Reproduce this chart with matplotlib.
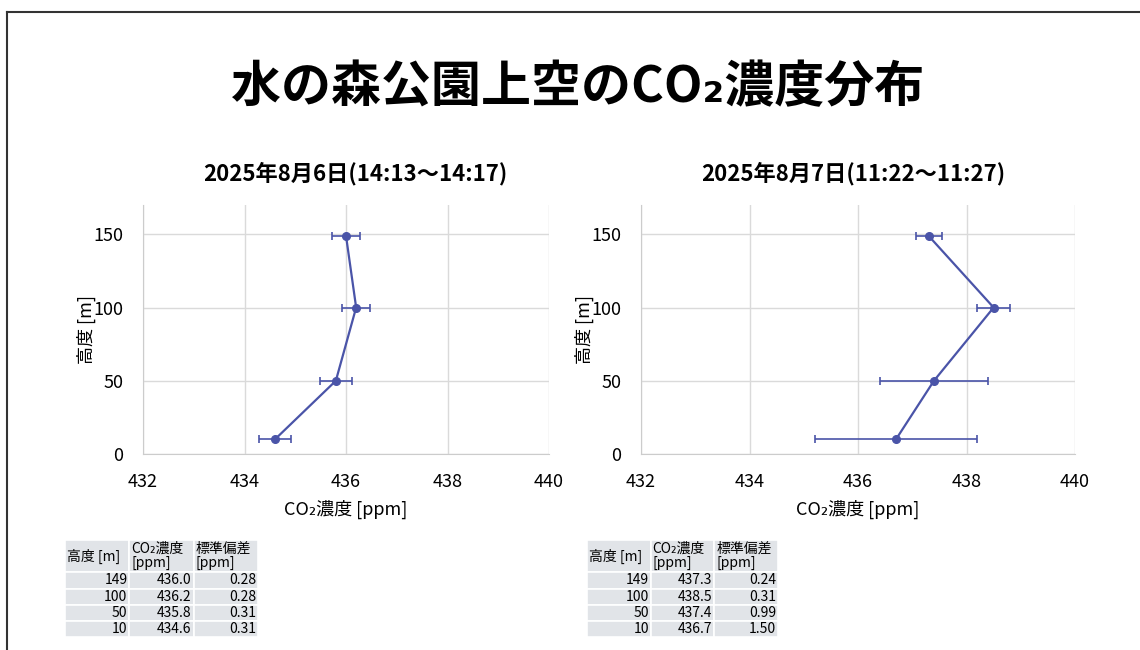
import matplotlib
matplotlib.use("Agg")
import matplotlib.pyplot as plt
from matplotlib.lines import Line2D

plt.rcParams['font.family'] = ['Noto Sans CJK JP', 'DejaVu Sans']

# データ
heights = [149, 100, 50, 10]
co2_day1 = [436.0, 436.2, 435.8, 434.6]
sd_day1 = [0.28, 0.28, 0.31, 0.31]
co2_day2 = [437.3, 438.5, 437.4, 436.7]
sd_day2 = [0.24, 0.31, 0.99, 1.50]

title = "水の森公園上空のCO₂濃度分布"
subtitles = ["2025年8月6日(14:13～14:17)", "2025年8月7日(11:22～11:27)"]
x_ticks = [432, 434, 436, 438, 440]
y_ticks = [0, 50, 100, 150]
table_header = ["高度 [m]", "CO₂濃度\n[ppm]", "標準偏差\n[ppm]"]

LINE_COLOR = '#4a54a8'
W, H = 1140, 650

fig = plt.figure(figsize=(W / 100, H / 100), dpi=100)

# 外枠
fig.add_artist(Line2D([7 / W, 7 / W], [0, 1 - 12 / H], color='#333333', lw=1.5))
fig.add_artist(Line2D([7 / W, 1], [1 - 12 / H, 1 - 12 / H], color='#333333', lw=1.5))

fig.text(578 / W, 1 - 88 / H, title, ha='center', va='center',
         fontsize=36, fontweight='bold')


def px_rect(x0, y0, x1, y1):
    return [x0 / W, 1 - y1 / H, (x1 - x0) / W, (y1 - y0) / H]


def draw_profile(rect, co2, sd, subtitle, sub_x):
    ax = fig.add_axes(rect)
    ax.errorbar(co2, heights, xerr=sd, color=LINE_COLOR, lw=1.6,
                marker='o', markersize=5.5, elinewidth=1.2, capsize=3,
                capthick=1.2)
    ax.set_xlim(432, 440)
    ax.set_ylim(0, 170)
    ax.set_xticks(x_ticks)
    ax.set_yticks(y_ticks)
    ax.grid(True, color='#dadada', lw=1)
    ax.set_axisbelow(True)
    for s in ['top', 'right']:
        ax.spines[s].set_visible(False)
    for s in ['left', 'bottom']:
        ax.spines[s].set_color('#cccccc')
    ax.tick_params(axis='x', length=0, labelsize=13, pad=14)
    ax.tick_params(axis='y', length=0, labelsize=13, pad=14)
    ax.set_xlabel("CO₂濃度 [ppm]", fontsize=13, labelpad=6)
    ax.set_ylabel("高度 [m]", fontsize=13, labelpad=-2)
    fig.text(sub_x / W, 1 - 174 / H, subtitle, ha='center', va='center',
             fontsize=16, fontweight='bold')
    return ax


def draw_table(rect, co2, sd):
    tax = fig.add_axes(rect)
    tax.axis('off')
    rows = [[str(h), f"{c:.1f}", f"{s:.2f}"] for h, c, s in zip(heights, co2, sd)]
    tbl = tax.table(cellText=[table_header] + rows, bbox=[0, 0, 1, 1],
                    cellLoc='right')
    tbl.auto_set_font_size(False)
    for (r, c), cell in tbl.get_celld().items():
        cell.set_facecolor('#e1e4e8')
        cell.set_edgecolor('white')
        cell.set_linewidth(1.2)
        cell.get_text().set_fontsize(10)
        cell.PAD = 0.03
        if r == 0:
            cell.set_height(2)
            cell.get_text().set_ha('left')
            cell._loc = 'left'
            cell.get_text().set_linespacing(1.0)
        else:
            cell.set_height(1)


draw_profile(px_rect(143, 205, 549, 454), co2_day1, sd_day1, subtitles[0], 355)
draw_profile(px_rect(641, 205, 1075, 454), co2_day2, sd_day2, subtitles[1], 853)
draw_table(px_rect(65, 540, 258, 637), co2_day1, sd_day1)
draw_table(px_rect(587, 540, 778, 637), co2_day2, sd_day2)

fig.savefig("out.png", dpi=100)
